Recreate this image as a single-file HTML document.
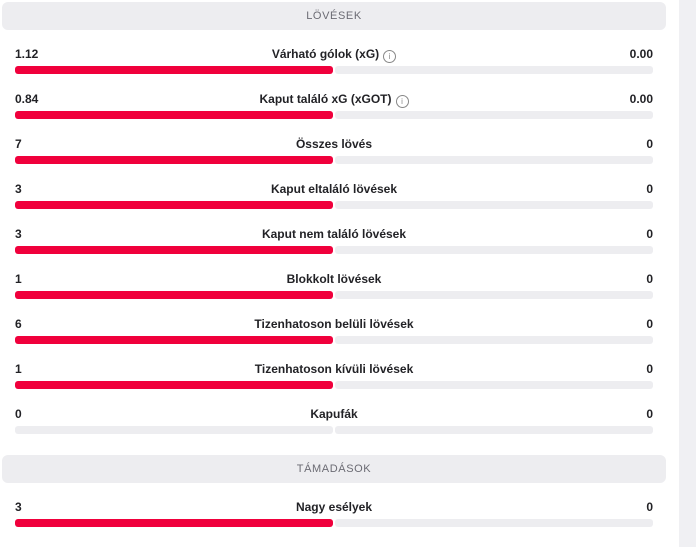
<!DOCTYPE html>
<html><head><meta charset="utf-8"><style>
body{margin:0;width:696px;height:547px;background:#fff;font-family:"Liberation Sans",sans-serif;position:relative;overflow:hidden;color:#222226}
.strip{position:absolute;left:679px;top:0;width:17px;height:547px;background:#f0f0f3}
.hdr{position:absolute;left:2px;width:664px;height:28px;background:#ededf0;border-radius:6px;font-size:11px;color:#6b6b73;letter-spacing:.6px;text-align:center;line-height:28px}
.row{position:absolute;left:15px;width:638px;height:30px;font-size:12px;font-weight:bold;line-height:14px}
.l{position:absolute;left:0;top:0}
.r{position:absolute;right:0;top:0}
.c{position:absolute;left:0;right:0;top:0;text-align:center}
.i{display:inline-block;width:11px;height:11px;border:1px solid #888;border-radius:50%;font-size:8px;line-height:11px;color:#888;vertical-align:-1px;margin-left:4px;font-weight:normal}
.bl,.br{position:absolute;top:19px;height:8px;width:318px;background:#ededf0;border-radius:3px}
.bl{left:0}.br{left:320px}
.red{background:#f0003c}
</style></head><body>
<div class="strip"></div>
<div class="hdr" style="top:2px">LÖVÉSEK</div>
<div class="row" style="top:47px"><span class="l">1.12</span><span class="c">Várható gólok (xG)<span class="i">i</span></span><span class="r">0.00</span><div class="bl red"></div><div class="br"></div></div>
<div class="row" style="top:92px"><span class="l">0.84</span><span class="c">Kaput találó xG (xGOT)<span class="i">i</span></span><span class="r">0.00</span><div class="bl red"></div><div class="br"></div></div>
<div class="row" style="top:137px"><span class="l">7</span><span class="c">Összes lövés</span><span class="r">0</span><div class="bl red"></div><div class="br"></div></div>
<div class="row" style="top:182px"><span class="l">3</span><span class="c">Kaput eltaláló lövések</span><span class="r">0</span><div class="bl red"></div><div class="br"></div></div>
<div class="row" style="top:227px"><span class="l">3</span><span class="c">Kaput nem találó lövések</span><span class="r">0</span><div class="bl red"></div><div class="br"></div></div>
<div class="row" style="top:272px"><span class="l">1</span><span class="c">Blokkolt lövések</span><span class="r">0</span><div class="bl red"></div><div class="br"></div></div>
<div class="row" style="top:317px"><span class="l">6</span><span class="c">Tizenhatoson belüli lövések</span><span class="r">0</span><div class="bl red"></div><div class="br"></div></div>
<div class="row" style="top:362px"><span class="l">1</span><span class="c">Tizenhatoson kívüli lövések</span><span class="r">0</span><div class="bl red"></div><div class="br"></div></div>
<div class="row" style="top:407px"><span class="l">0</span><span class="c">Kapufák</span><span class="r">0</span><div class="bl"></div><div class="br"></div></div>
<div class="hdr" style="top:455px">TÁMADÁSOK</div>
<div class="row" style="top:500px"><span class="l">3</span><span class="c">Nagy esélyek</span><span class="r">0</span><div class="bl red"></div><div class="br"></div></div>
</body></html>
